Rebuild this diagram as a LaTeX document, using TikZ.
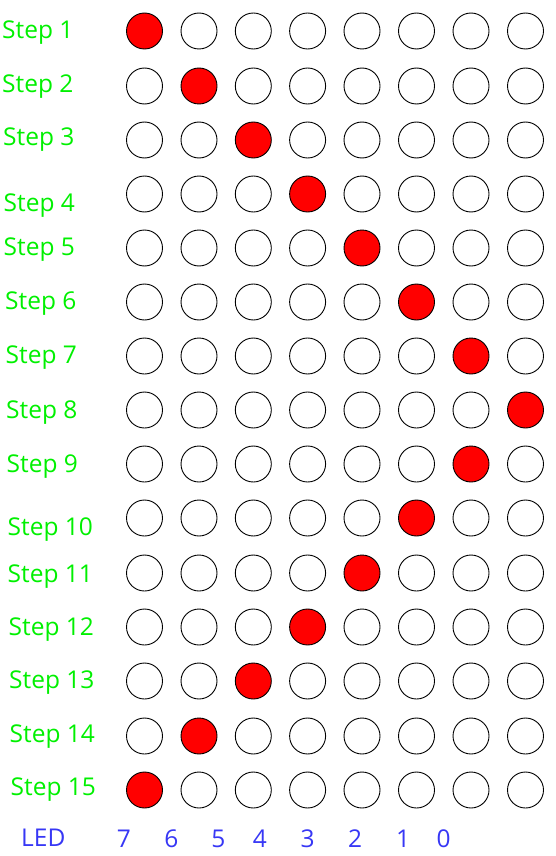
\documentclass[tikz,border=0pt]{standalone}
\usepackage{fontspec}
\setmainfont{Open Sans}
\definecolor{stepgreen}{RGB}{0,240,0}
\definecolor{ledblue}{RGB}{55,55,245}
\definecolor{ledred}{RGB}{255,0,0}
\begin{document}
\begin{tikzpicture}[x=1pt,y=-1pt,
  led/.style={circle,draw=black,line width=0.9pt,minimum size=36pt,inner sep=0pt,fill=white},
  ledon/.style={led,fill=ledred},
  steplabel/.style={anchor=base west,inner sep=0pt,text=stepgreen,font=\fontsize{24.5}{29}\selectfont},
  numlabel/.style={anchor=base,inner sep=0pt,text=ledblue,font=\fontsize{24.5}{29}\selectfont}]
\useasboundingbox (0,0) rectangle (556,856);
\def\colxs{{144.5,199,253.3,307.6,362,416.5,471,525.5}}
\def\rowys{{31,86,140,194,248,302,356,410,464,518,573,627,681,736,790}}
\def\onpos{{0,1,2,3,4,5,6,7,6,5,4,3,2,1,0}}
\foreach \r in {0,...,14}{
  \foreach \c in {0,...,7}{
    \pgfmathsetmacro\xx{\colxs[\c]}
    \pgfmathsetmacro\yy{\rowys[\r]}
    \pgfmathtruncatemacro\on{\onpos[\r]}
    \ifnum\on=\c
      \node[ledon] (c-\r-\c) at (\xx,\yy) {};
    \else
      \node[led] (c-\r-\c) at (\xx,\yy) {};
    \fi
  }
}
\node[steplabel] (s1) at (2,39) {Step 1};
\node[steplabel] (s2) at (2,93) {Step 2};
\node[steplabel] (s3) at (3,146) {Step 3};
\node[steplabel] (s4) at (3.5,211) {Step 4};
\node[steplabel] (s5) at (3.5,255) {Step 5};
\node[steplabel] (s6) at (5,309) {Step 6};
\node[steplabel] (s7) at (5.5,363) {Step 7};
\node[steplabel] (s8) at (6,418) {Step 8};
\node[steplabel] (s9) at (6.5,472) {Step 9};
\node[steplabel] (s10) at (7.5,535) {Step 10};
\node[steplabel] (s11) at (7.5,582) {Step 11};
\node[steplabel] (s12) at (8.5,635) {Step 12};
\node[steplabel] (s13) at (9,688) {Step 13};
\node[steplabel] (s14) at (9.5,742) {Step 14};
\node[steplabel] (s15) at (10.5,795) {Step 15};
\node[numlabel,anchor=base west] (led) at (21,846) {LED};
\node[numlabel] (n7) at (124,847) {7};
\node[numlabel] (n6) at (171.5,847) {6};
\node[numlabel] (n5) at (218.5,847) {5};
\node[numlabel] (n4) at (260,847) {4};
\node[numlabel] (n3) at (307.5,847) {3};
\node[numlabel] (n2) at (355,847) {2};
\node[numlabel] (n1) at (403,847) {1};
\node[numlabel] (n0) at (443.5,847) {0};
\end{tikzpicture}
\end{document}
